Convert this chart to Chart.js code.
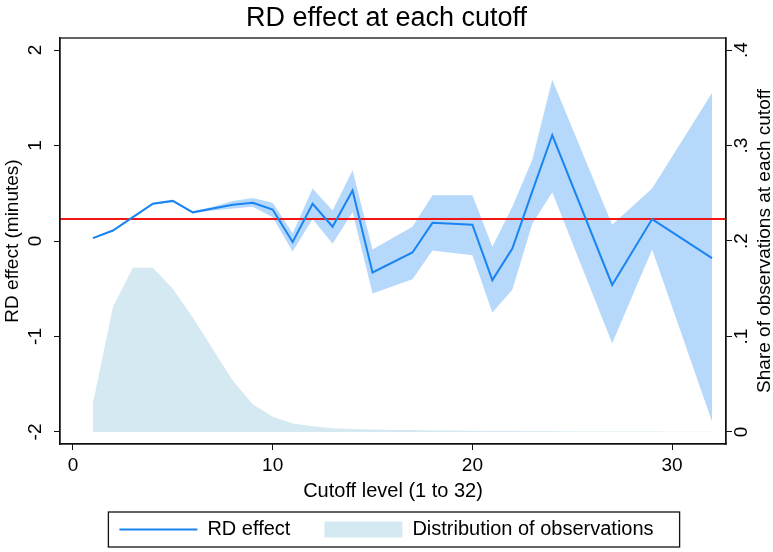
<!DOCTYPE html>
<html>
<head>
<meta charset="utf-8">
<script src="https://cdn.jsdelivr.net/npm/chart.js@4.4.1/dist/chart.umd.min.js"></script>
<style>
    html, body { margin: 0; padding: 0; background: #fff; }
</style>
</head>
<body>
<canvas id="rdChart" width="773" height="552"></canvas>
<script>
// cutoffs where an RD estimate was drawn
const cutoffs = [1, 2, 3, 4, 5, 6, 7, 8, 9, 10, 11, 12, 13, 14, 15, 17, 18, 20, 21, 22, 23, 24, 27, 29, 32];
const rdEffect = [0.03, 0.11, 0.25, 0.39, 0.42, 0.30, 0.34, 0.38, 0.40, 0.33, -0.01, 0.39, 0.15, 0.53, -0.33, -0.12, 0.19, 0.17, -0.41, -0.08, 0.52, 1.11, -0.46, 0.23, -0.18];
const ciUpper = [0.04, 0.12, 0.26, 0.40, 0.43, 0.31, 0.36, 0.42, 0.45, 0.40, 0.08, 0.55, 0.32, 0.74, -0.09, 0.15, 0.48, 0.48, -0.06, 0.36, 0.85, 1.69, 0.17, 0.55, 1.55];
const ciLower = [0.02, 0.10, 0.24, 0.38, 0.41, 0.29, 0.32, 0.34, 0.36, 0.25, -0.11, 0.23, -0.03, 0.30, -0.55, -0.40, -0.10, -0.15, -0.75, -0.51, 0.18, 0.51, -1.07, -0.09, -1.89];

// share of observations at each cutoff (right axis)
const shareCutoffs = [1, 2, 3, 4, 5, 6, 7, 8, 9, 10, 11, 12, 13, 14, 15, 16, 17, 18, 19, 20, 21, 22, 23, 24, 25, 26, 27, 28, 29, 30, 31, 32];
const shareObs = [0.030, 0.131, 0.172, 0.172, 0.150, 0.120, 0.087, 0.054, 0.029, 0.016, 0.009, 0.006, 0.004, 0.003, 0.0025, 0.002, 0.002, 0.0015, 0.0015, 0.0012, 0.001, 0.001, 0.0008, 0.0008, 0.0006, 0.0005, 0.0005, 0.0004, 0.0004, 0.0003, 0.0003, 0.0003];

const avgEffect = 0.23;

const xTicks = [0, 10, 20, 30];
const yTicks = [-2, -1, 0, 1, 2];
const y2Ticks = [0, 0.1, 0.2, 0.3, 0.4];

const xMin = -0.65, xMax = 32.7;
const yMin = -2.126, yMax = 2.126;

const blue = "#1a84f2";
const bandColor = "#b5d8fb";
const distColor = "#d4e9f1";
const red = "#f01616";
const font = "'Liberation Sans', Arial, sans-serif";

Chart.defaults.color = "#000";
Chart.defaults.font.family = font;

function xy(xs, ys) {
    return xs.map((x, i) => ({ x: x, y: ys[i] }));
}

const framePlugin = {
    id: "frame",
    afterDraw(chart) {
        const ctx = chart.ctx;
        const a = chart.chartArea;
        ctx.save();
        ctx.strokeStyle = "#111";
        ctx.lineWidth = 1.3;
        ctx.strokeRect(a.left, a.top, a.right - a.left, a.bottom - a.top);

        // right axis title, read bottom to top like the left one
        ctx.translate(765, (a.top + a.bottom) / 2);
        ctx.rotate(-Math.PI / 2);
        ctx.font = "19px " + font;
        ctx.fillStyle = "#000";
        ctx.textAlign = "center";
        ctx.textBaseline = "middle";
        ctx.fillText("Share of observations at each cutoff", 0, 0);
        ctx.restore();

        // box round the legend
        const hb = chart.legend.legendHitBoxes;
        if (hb && hb.length) {
            const last = hb[hb.length - 1];
            const left = hb[0].left - 11;
            const right = last.left + last.width + 26;
            const midY = hb[0].top + hb[0].height / 2;
            ctx.save();
            ctx.strokeStyle = "#111";
            ctx.lineWidth = 1.3;
            ctx.strokeRect(left, midY - 17.5, right - left, 35);
            ctx.restore();
        }
    }
};

new Chart(document.getElementById("rdChart"), {
    type: "line",
    data: {
        datasets: [
            {
                label: "RD effect",
                data: xy(cutoffs, rdEffect),
                borderColor: blue,
                borderWidth: 2,
                pointRadius: 0,
                fill: false,
                yAxisID: "y",
            },
            {
                label: "average",
                data: [{ x: xMin, y: avgEffect }, { x: xMax, y: avgEffect }],
                borderColor: red,
                borderWidth: 2,
                pointRadius: 0,
                fill: false,
                yAxisID: "y",
            },
            {
                label: "upper",
                data: xy(cutoffs, ciUpper),
                borderWidth: 0,
                borderColor: "rgba(0,0,0,0)",
                backgroundColor: bandColor,
                pointRadius: 0,
                fill: "+1",
                yAxisID: "y",
            },
            {
                label: "lower",
                data: xy(cutoffs, ciLower),
                borderWidth: 0,
                borderColor: "rgba(0,0,0,0)",
                pointRadius: 0,
                fill: false,
                yAxisID: "y",
            },
            {
                label: "Distribution of observations",
                data: xy(shareCutoffs, shareObs),
                borderWidth: 0,
                borderColor: "rgba(0,0,0,0)",
                backgroundColor: distColor,
                pointRadius: 0,
                fill: "origin",
                yAxisID: "y2",
            },
        ],
    },
    options: {
        responsive: false,
        animation: false,
        devicePixelRatio: 1,
        layout: { padding: { left: 0, right: 0, top: 0, bottom: 2.5 } },
        plugins: {
            title: {
                display: true,
                text: "RD effect at each cutoff",
                font: { size: 27, weight: "normal" },
                padding: { top: 2, bottom: 3.6 },
            },
            legend: {
                position: "bottom",
                labels: {
                    usePointStyle: true,
                    pointStyleWidth: 78,
                    boxHeight: 16,
                    padding: 34,
                    font: { size: 20 },
                    generateLabels() {
                        return [
                            { text: "RD effect", strokeStyle: blue, fillStyle: blue, lineWidth: 2, pointStyle: "line", datasetIndex: 0 },
                            { text: "Distribution of observations", strokeStyle: distColor, fillStyle: distColor, lineWidth: 0, pointStyle: "rect", datasetIndex: 4 },
                        ];
                    },
                },
            },
            tooltip: { enabled: false },
        },
        scales: {
            x: {
                type: "linear",
                min: xMin,
                max: xMax,
                afterBuildTicks: s => { s.ticks = xTicks.map(v => ({ value: v })); },
                afterFit: s => { s.height = 41.5; },
                grid: { drawOnChartArea: false, tickLength: 6, color: "#111" },
                border: { color: "#111", width: 1.3 },
                ticks: { font: { size: 19 }, padding: 4.6, maxRotation: 0 },
                title: { display: true, text: "Cutoff level (1 to 32)", font: { size: 20 }, padding: { top: 0, bottom: -17.5 } },
            },
            y: {
                position: "left",
                min: yMin,
                max: yMax,
                afterBuildTicks: s => { s.ticks = yTicks.map(v => ({ value: v })); },
                afterFit: s => { s.width = 60; },
                grid: { drawOnChartArea: false, tickLength: 6, color: "#111" },
                border: { color: "#111", width: 1.3 },
                ticks: { font: { size: 19 }, minRotation: 90, maxRotation: 90, crossAlign: "center", padding: 10 },
                title: { display: true, text: "RD effect (minutes)", font: { size: 19 }, padding: { top: 1, bottom: 0 } },
            },
            y2: {
                position: "right",
                min: yMin / 10 + 0.2,
                max: yMax / 10 + 0.2,
                afterBuildTicks: s => { s.ticks = y2Ticks.map(v => ({ value: v })); },
                afterFit: s => { s.width = 47; },
                grid: { drawOnChartArea: false, tickLength: 6, color: "#111" },
                border: { color: "#111", width: 1.3 },
                ticks: {
                    font: { size: 19 },
                    minRotation: 90,
                    maxRotation: 90,
                    crossAlign: "center",
                    padding: 2,
                    callback: v => v === 0 ? "0" : v.toFixed(1).replace(/^0/, ""),
                },
            },
        },
    },
    plugins: [framePlugin],
});
</script>
</body>
</html>
